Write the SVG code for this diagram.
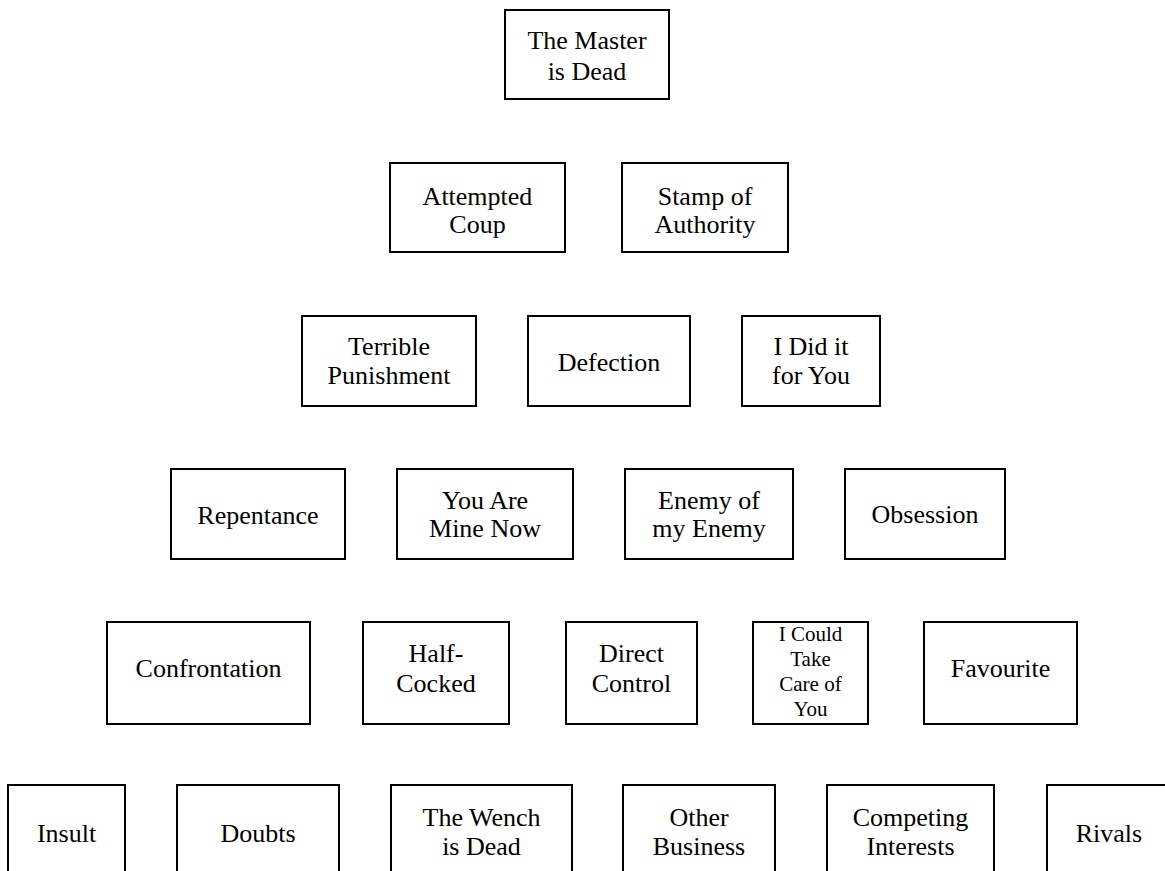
<svg xmlns="http://www.w3.org/2000/svg" width="1165" height="871" viewBox="0 0 1165 871">
<style>
.b{fill:#fff;stroke:#000;stroke-width:2}
.t{font-family:"Liberation Serif","Times New Roman",serif;font-size:26px;fill:#000;text-anchor:middle}
.s{font-size:21px}
</style>
<rect width="1165" height="871" fill="#fff"/>
<g id="connectors"/>
<g id="n-master"><rect class="b" x="505" y="10" width="164" height="89"/><text class="t" x="587" y="49">The Master</text><text class="t" x="587" y="80">is Dead</text></g>
<g id="n-attempted"><rect class="b" x="390" y="163" width="175" height="89"/><text class="t" x="477.5" y="205">Attempted</text><text class="t" x="477.5" y="233">Coup</text></g>
<g id="n-stamp"><rect class="b" x="622" y="163" width="166" height="89"/><text class="t" x="705" y="205">Stamp of</text><text class="t" x="705" y="233">Authority</text></g>
<g id="n-terrible"><rect class="b" x="302" y="316" width="174" height="90"/><text class="t" x="389" y="355">Terrible</text><text class="t" x="389" y="384">Punishment</text></g>
<g id="n-defection"><rect class="b" x="528" y="316" width="162" height="90"/><text class="t" x="609" y="371">Defection</text></g>
<g id="n-ididit"><rect class="b" x="742" y="316" width="138" height="90"/><text class="t" x="811" y="355">I Did it</text><text class="t" x="811" y="384">for You</text></g>
<g id="n-repentance"><rect class="b" x="171" y="469" width="174" height="90"/><text class="t" x="258" y="524">Repentance</text></g>
<g id="n-youare"><rect class="b" x="397" y="469" width="176" height="90"/><text class="t" x="485" y="509">You Are</text><text class="t" x="485" y="537">Mine Now</text></g>
<g id="n-enemy"><rect class="b" x="625" y="469" width="168" height="90"/><text class="t" x="709" y="509">Enemy of</text><text class="t" x="709" y="537">my Enemy</text></g>
<g id="n-obsession"><rect class="b" x="845" y="469" width="160" height="90"/><text class="t" x="925" y="523">Obsession</text></g>
<g id="n-confrontation"><rect class="b" x="107" y="622" width="203" height="102"/><text class="t" x="208.5" y="677">Confrontation</text></g>
<g id="n-halfcocked"><rect class="b" x="363" y="622" width="146" height="102"/><text class="t" x="436" y="662">Half-</text><text class="t" x="436" y="692">Cocked</text></g>
<g id="n-direct"><rect class="b" x="566" y="622" width="131" height="102"/><text class="t" x="631.5" y="662">Direct</text><text class="t" x="631.5" y="692">Control</text></g>
<g id="n-icould"><rect class="b" x="753" y="622" width="115" height="102"/><text class="t s" x="810.5" y="641">I Could</text><text class="t s" x="810.5" y="666">Take</text><text class="t s" x="810.5" y="691">Care of</text><text class="t s" x="810.5" y="716">You</text></g>
<g id="n-favourite"><rect class="b" x="924" y="622" width="153" height="102"/><text class="t" x="1000.5" y="677">Favourite</text></g>
<g id="n-insult"><rect class="b" x="8" y="785" width="117" height="100"/><text class="t" x="66.5" y="842">Insult</text></g>
<g id="n-doubts"><rect class="b" x="177" y="785" width="162" height="100"/><text class="t" x="258" y="842">Doubts</text></g>
<g id="n-wench"><rect class="b" x="391" y="785" width="181" height="100"/><text class="t" x="481.5" y="826">The Wench</text><text class="t" x="481.5" y="855">is Dead</text></g>
<g id="n-other"><rect class="b" x="623" y="785" width="152" height="100"/><text class="t" x="699" y="826">Other</text><text class="t" x="699" y="855">Business</text></g>
<g id="n-competing"><rect class="b" x="827" y="785" width="167" height="100"/><text class="t" x="910.5" y="826">Competing</text><text class="t" x="910.5" y="855">Interests</text></g>
<g id="n-rivals"><rect class="b" x="1047" y="785" width="124" height="100"/><text class="t" x="1109" y="842">Rivals</text></g>
</svg>
